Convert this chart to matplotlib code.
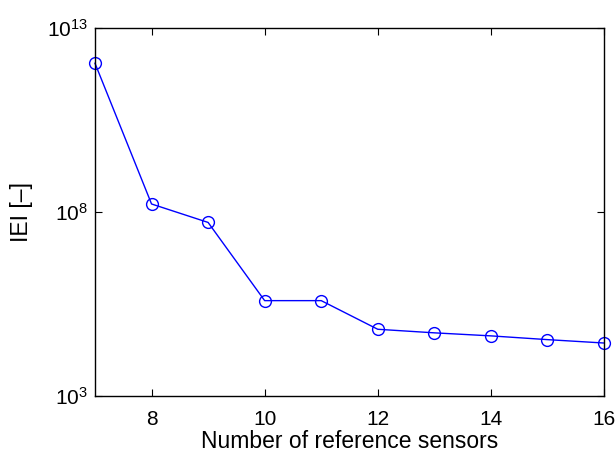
import matplotlib
matplotlib.use("Agg")
import matplotlib.pyplot as plt
from matplotlib.ticker import NullLocator, LogFormatterMathtext

plt.rcParams['font.family'] = ['Liberation Sans', 'DejaVu Sans']
plt.rcParams['mathtext.fontset'] = 'custom'
plt.rcParams['mathtext.rm'] = 'Liberation Sans'

sensors = [7, 8, 9, 10, 11, 12, 13, 14, 15, 16]
iei = [1.1e12, 1.65e8, 5.2e7, 3.9e5, 3.9e5, 6.5e4, 5.2e4, 4.3e4, 3.4e4, 2.75e4]
xticks = [8, 10, 12, 14, 16]
yticks = [1e3, 1e8, 1e13]

fig = plt.figure(figsize=(6.16, 4.55), dpi=100)
ax = fig.add_axes([0.1542, 0.1297, 0.9805 - 0.1542, 0.9385 - 0.1297])
ax.semilogy(sensors, iei, color='blue', lw=1.0, marker='o', ms=8.5,
            mfc='none', mec='blue', mew=1.0, clip_on=False)
ax.set_xlim(7, 16)
ax.set_ylim(1e3, 1e13)
ax.set_xticks(xticks)
ax.set_yticks(yticks)
ax.yaxis.set_minor_locator(NullLocator())
ax.yaxis.set_major_formatter(LogFormatterMathtext())
ax.tick_params(direction='in', top=True, right=True, labelsize=15, length=5, width=0.8)
ax.tick_params(axis='x', pad=10)
ax.tick_params(axis='y', pad=5)
for s in ax.spines.values():
    s.set_linewidth(1.0)
ax.set_xlabel('Number of reference sensors', fontsize=16.5, labelpad=0.5)
ax.set_ylabel('IEI [\u2013]', fontsize=16.5, labelpad=10)
fig.savefig('out.png', dpi=100)
